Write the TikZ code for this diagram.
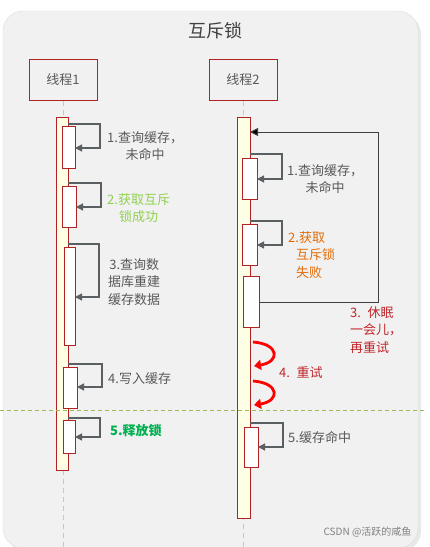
\documentclass[tikz,border=0pt]{standalone}
\usepackage{fontspec}
\setmainfont{Noto Sans CJK SC}
\usepackage{xcolor}
\usetikzlibrary{arrows.meta, calc}

\definecolor{boxred}{HTML}{B22222}
\definecolor{barfill}{HTML}{FFFFE6}
\definecolor{txtgray}{HTML}{595959}
\definecolor{msggray}{HTML}{5A5F62}
\definecolor{panelgray}{HTML}{F1F1F1}
\definecolor{okgreen}{HTML}{92D050}
\definecolor{relgreen}{HTML}{00B050}
\definecolor{failorange}{HTML}{E36C09}
\definecolor{sleepred}{HTML}{C0282D}
\definecolor{splitgreen}{HTML}{9BBB59}

\tikzset{
    actor/.style={draw=boxred, line width=0.9pt, minimum width=68pt, minimum height=41pt,
        text=txtgray, font=\fontsize{13}{15}\selectfont},
    bar/.style={draw=boxred, fill=barfill, line width=0.9pt, inner sep=0pt, outer sep=0pt, anchor=north west},
    act/.style={draw=boxred, fill=white, line width=0.9pt, inner sep=0pt, outer sep=0pt, anchor=north west},
    lifeline/.style={gray!45, line width=0.9pt, dash pattern=on 5pt off 4pt},
    msg/.style={msggray, line width=1.2pt, -{Triangle[length=7pt, width=7pt]}},
    lbl/.style={anchor=west, text=txtgray, align=center, inner sep=0pt, font=\fontsize{13}{17.5}\selectfont},
}

\begin{document}
\begin{tikzpicture}[x=1pt, y=-1pt]
    \useasboundingbox (0,0) rectangle (430,547);
    % Hintergrund
    \fill[gray!18, rounded corners=20pt] (6,14) rectangle (421,551);
    \filldraw[fill=panelgray, draw=gray!25, rounded corners=20pt] (3,11) rectangle (418,548);
    \node[text=black!75, font=\fontsize{18}{20}\selectfont] (title) at (215,31) {互斥锁};

    % Threads
    \node[actor] (th1) at (63,80) {线程1};
    \node[actor] (th2) at (243,80) {线程2};
    \draw[lifeline] (th1.south) -- (th1.south |- 0,547);
    \draw[lifeline] (th2.south) -- (th2.south |- 0,547);

    % Aktivierungsbalken
    \node[bar, minimum width=12pt, minimum height=353pt] (bar1) at (56,117) {};
    \node[bar, minimum width=13pt, minimum height=401pt] (bar2) at (237,117) {};

    \node[act, minimum width=13pt, minimum height=42pt] (a11) at (62,126) {};
    \node[act, minimum width=14pt, minimum height=41pt] (a12) at (62,186) {};
    \node[act, minimum width=11pt, minimum height=98pt] (a13) at (64,247) {};
    \node[act, minimum width=14pt, minimum height=41pt] (a14) at (63,367) {};
    \node[act, minimum width=12pt, minimum height=33pt] (a15) at (63,420) {};

    \node[act, minimum width=15pt, minimum height=41pt] (a21) at (242,158) {};
    \node[act, minimum width=15pt, minimum height=41pt] (a22) at (242,224) {};
    \node[act, minimum width=16pt, minimum height=51pt] (a23) at (243,276) {};
    \node[act, minimum width=14pt, minimum height=40pt] (a25) at (244,427) {};

    % Selbstaufrufe
    \foreach \b/\ys/\xr/\ye in {a11/124/100/148, a12/183/101/207, a13/244/99/297, a14/364/102/387, a15/418/100/437}
        \draw[msg] (bar1.east |- 0,\ys) -- (\xr,\ys) |- (\b.east |- 0,\ye);
    \foreach \b/\ys/\xr/\ye in {a21/154/282/179, a22/221/282/245, a25/423/283/447}
        \draw[msg] (bar2.east |- 0,\ys) -- (\xr,\ys) |- (\b.east |- 0,\ye);

    % Schleife: schlafen und neu versuchen
    \draw[black!75, line width=1pt, -{Triangle[length=8pt, width=8pt, fill=black]}]
        (a23.east |- 0,302) -- (378,302) |- (bar2.east |- 0,132);

    % Wiederholungen
    \draw[red, line width=2.8pt, -{Triangle[length=7pt, width=10pt]}]
        (253,342) .. controls (280,344) and (280,362) .. (254,366);
    \draw[red, line width=2.8pt, -{Triangle[length=7pt, width=10pt]}]
        (253,381) .. controls (280,383) and (280,401) .. (254,405);

    % Trennlinie
    \draw[splitgreen, line width=0.9pt, dash pattern=on 4pt off 3pt] (0,410) -- (425,410);

    % Beschriftungen
    \node[lbl] (l11) at (107,146) {1.查询缓存，\\未命中};
    \node[lbl, text=okgreen] (l12) at (107,208) {2.获取互斥\\锁成功};
    \node[lbl] (l13) at (108,282) {3.查询数\\据库重建\\缓存数据};
    \node[lbl] (l14) at (108,379) {4.写入缓存};
    \node[lbl, text=relgreen, font=\bfseries\fontsize{13}{17.5}\selectfont] (l15) at (110,431) {5.释放锁};

    \node[lbl] (l21) at (287,179) {1.查询缓存，\\未命中};
    \node[lbl, text=failorange, align=left] (l22) at (288,255) {2.获取\\\hspace*{0.6em}互斥锁\\\hspace*{0.6em}失败};
    \node[lbl, text=sleepred, align=left] (l23) at (350,330) {3.\enspace 休眠\\一会儿，\\再重试};
    \node[lbl, text=sleepred] (l24) at (279,373) {4.\enspace 重试};
    \node[lbl] (l25) at (288,437) {5.缓存命中};

    \node[anchor=east, text=gray, font=\fontsize{10}{12}\selectfont] (mark) at (415,532) {CSDN @活跃的咸鱼};
\end{tikzpicture}
\end{document}
